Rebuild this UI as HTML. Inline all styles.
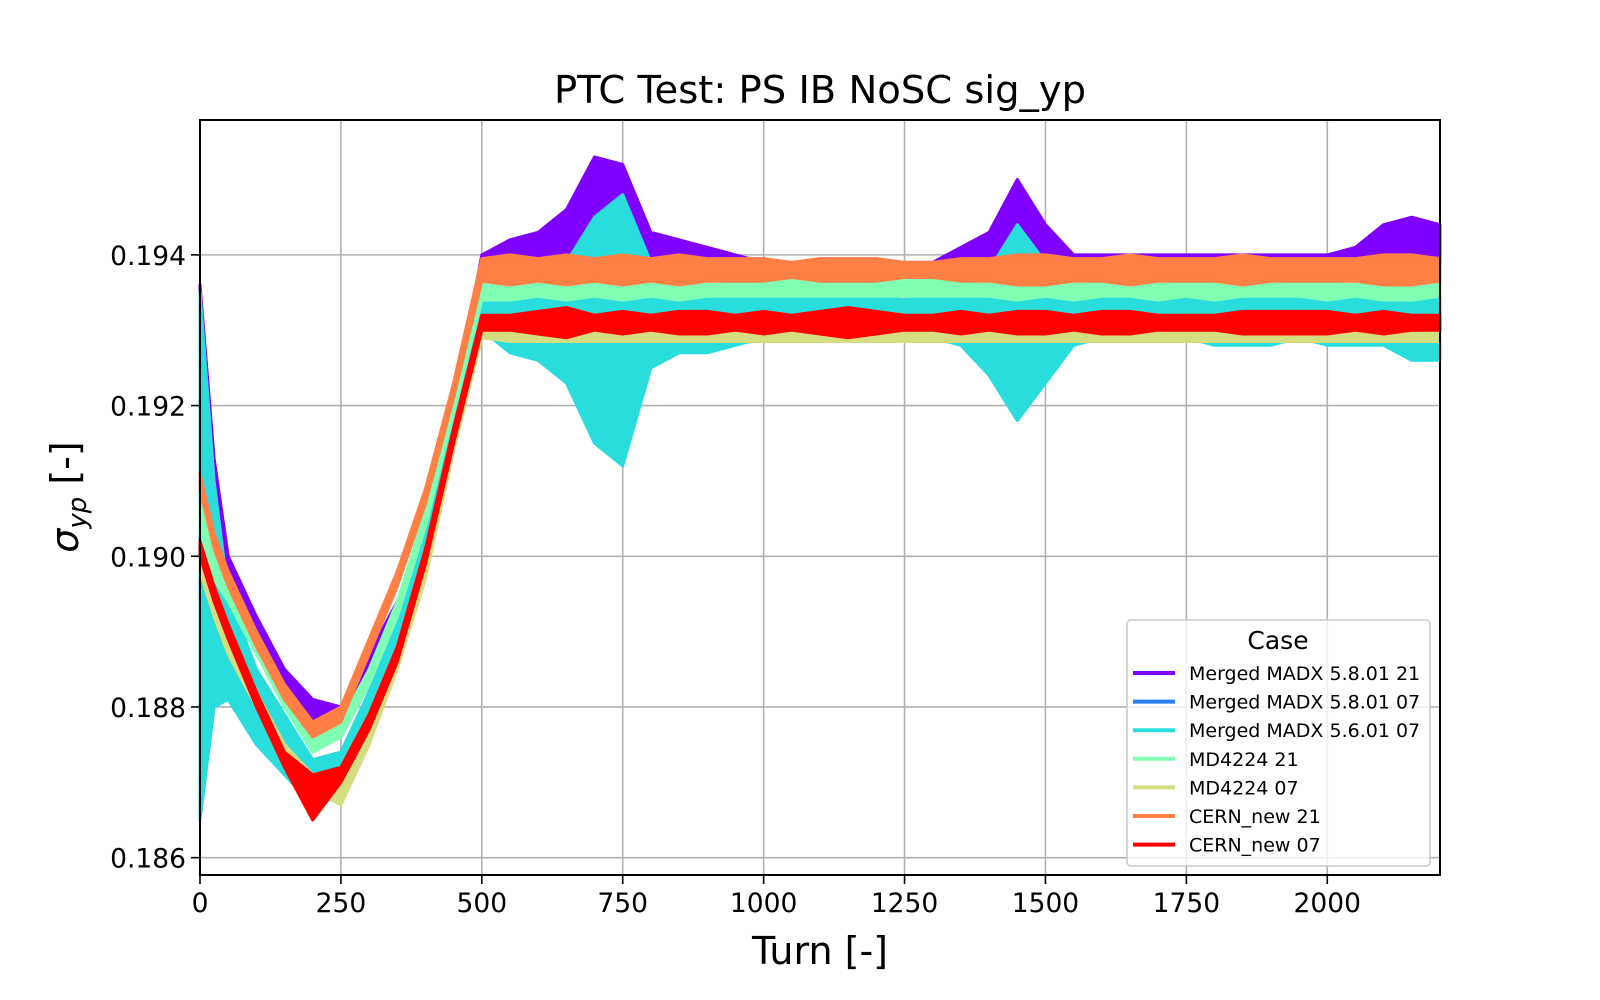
<!DOCTYPE html>
<html><head><meta charset="utf-8"><style>
body{margin:0;background:#fff}
svg{display:block;font-family:"DejaVu Sans","Liberation Sans",sans-serif}
</style></head><body>
<svg id="chart" width="1600" height="1000" viewBox="0 0 1600 1000" xmlns="http://www.w3.org/2000/svg">
<rect width="1600" height="1000" fill="#fff"/>
<g id="grid"></g>
<g id="series"></g>
<rect x="200" y="120" width="1240" height="755" fill="none" stroke="#000" stroke-width="2"/>
<g id="ticks"></g>
<text x="820" y="103" font-size="38.5" text-anchor="middle">PTC Test: PS IB NoSC sig_yp</text>
<text x="820" y="964" font-size="38" text-anchor="middle">Turn [-]</text>
<text transform="translate(78,497) rotate(-90)" font-size="38" text-anchor="middle"><tspan font-style="italic">σ</tspan><tspan font-style="italic" font-size="26" dy="8">yp</tspan><tspan dy="-8"> [-]</tspan></text>
<g id="legend"></g>
</svg>
<script>
const turns=[0,25,50,100,150,200,250,300,350,400,450,500,550,600,650,700,750,800,850,900,950,1000,1050,1100,1150,1200,1250,1300,1350,1400,1450,1500,1550,1600,1650,1700,1750,1800,1850,1900,1950,2000,2050,2100,2150,2200];
const seriesNames=["Merged MADX 5.8.01 21","Merged MADX 5.8.01 07","Merged MADX 5.6.01 07","MD4224 21","MD4224 07","CERN_new 21","CERN_new 07"];
const seriesColors=["#8000ff","#2c7ef7","#2adddd","#80ffb4","#d4dd80","#ff7f45","#ff0000"];
const purpleCenter=[0.1925,0.1905,0.1897,0.1890,0.1883,0.1878,0.1878,0.1885,0.1893,0.1903,0.1918,0.1938,0.1939,0.1939,0.1940,0.1942,0.1941,0.1939,0.1939,0.1939,0.1938,0.1938,0.1938,0.1938,0.1938,0.1938,0.1938,0.1938,0.1939,0.1940,0.1941,0.1939,0.1938,0.1938,0.1938,0.1938,0.1938,0.1938,0.1938,0.1938,0.1938,0.1938,0.1939,0.1940,0.1940,0.1940];
const purpleAmp=[0.0011,0.0008,0.0003,0.0002,0.0002,0.0003,0.0002,0.0002,0.0001,0.0001,0.0002,0.0002,0.0003,0.0004,0.0006,0.0011,0.0011,0.0004,0.0003,0.0002,0.0002,0.0001,0.0001,0.0001,0.0001,0.0001,0.0001,0.0001,0.0002,0.0003,0.0009,0.0005,0.0002,0.0002,0.0002,0.0002,0.0002,0.0002,0.0002,0.0002,0.0002,0.0002,0.0002,0.0004,0.0005,0.0004];
const blueCenter=[0.1900,0.1895,0.1888,0.1880,0.1875,0.1870,0.1872,0.1880,0.1890,0.1904,0.1920,0.1932,0.1932,0.1932,0.1932,0.1931,0.1931,0.1932,0.1932,0.1932,0.1932,0.1932,0.1932,0.1932,0.1932,0.1932,0.1932,0.1932,0.1932,0.1932,0.1931,0.1932,0.1932,0.1932,0.1932,0.1932,0.1932,0.1932,0.1932,0.1932,0.1932,0.1932,0.1932,0.1932,0.1932,0.1932];
const blueAmp=[0.0030,0.0013,0.0006,0.0004,0.0003,0.0003,0.0002,0.0002,0.0002,0.0002,0.0002,0.0002,0.0004,0.0005,0.0007,0.0012,0.0015,0.0006,0.0004,0.0004,0.0003,0.0003,0.0003,0.0003,0.0003,0.0003,0.0002,0.0003,0.0003,0.0006,0.0011,0.0007,0.0003,0.0003,0.0003,0.0003,0.0003,0.0003,0.0003,0.0003,0.0003,0.0003,0.0003,0.0004,0.0004,0.0004];
const cyanCenter=[0.1900,0.1895,0.1888,0.1880,0.1875,0.1870,0.1872,0.1880,0.1890,0.1904,0.1920,0.1932,0.1932,0.1932,0.1931,0.1930,0.1930,0.1932,0.1932,0.1932,0.1932,0.1932,0.1932,0.1932,0.1932,0.1932,0.1932,0.1932,0.1932,0.1931,0.1931,0.1931,0.1932,0.1932,0.1932,0.1932,0.1932,0.1932,0.1932,0.1932,0.1932,0.1932,0.1932,0.1932,0.1931,0.1931];
const cyanAmp=[0.0035,0.0015,0.0007,0.0005,0.0004,0.0003,0.0002,0.0002,0.0002,0.0002,0.0002,0.0002,0.0005,0.0006,0.0008,0.0015,0.0018,0.0007,0.0005,0.0005,0.0004,0.0003,0.0003,0.0003,0.0003,0.0003,0.0002,0.0003,0.0004,0.0007,0.0013,0.0008,0.0004,0.0003,0.0003,0.0003,0.0003,0.0004,0.0004,0.0004,0.0003,0.0004,0.0004,0.0004,0.0005,0.0005];
const mintCenter=[0.1905,0.1899,0.1895,0.1888,0.1881,0.1876,0.1877,0.1884,0.1893,0.1905,0.1920,0.1935,0.1936,0.1936,0.1936,0.1936,0.1936,0.1936,0.1936,0.1936,0.1936,0.1936,0.1936,0.1936,0.1936,0.1936,0.1936,0.1936,0.1936,0.1936,0.1936,0.1936,0.1936,0.1936,0.1936,0.1936,0.1936,0.1936,0.1936,0.1936,0.1936,0.1936,0.1936,0.1936,0.1936,0.1936];
const mintAmp=[0.0002,0.0002,0.0001,0.0001,0.0001,0.0002,0.0001,0.0001,0.0001,0.0001,0.0001,0.0001,0.0002,0.00015,0.0002,0.00015,0.0002,0.00015,0.0002,0.00015,0.00015,0.00015,0.00015,0.00015,0.00015,0.00015,0.00015,0.00015,0.00015,0.00015,0.0002,0.00015,0.0002,0.00015,0.00015,0.0002,0.00015,0.0002,0.00015,0.00015,0.00015,0.0002,0.00015,0.0002,0.0002,0.00015];
const khakiCenter=[0.1900,0.1893,0.1888,0.1881,0.1874,0.1870,0.1869,0.1876,0.1886,0.1898,0.1915,0.1930,0.1930,0.1930,0.1930,0.1930,0.1930,0.1930,0.1930,0.1930,0.1930,0.1930,0.1930,0.1930,0.1930,0.1930,0.1930,0.1930,0.1930,0.1930,0.1930,0.1930,0.1930,0.1930,0.1930,0.1930,0.1930,0.1930,0.1930,0.1930,0.1930,0.1930,0.1930,0.1930,0.1930,0.1930];
const khakiAmp=[0.0002,0.0001,0.0001,0.0001,0.0001,0.0001,0.0002,0.0001,0.0001,0.0001,0.0001,0.0001,0.00015,0.00015,0.00015,0.00015,0.00015,0.00015,0.00015,0.00015,0.00015,0.00015,0.00015,0.00015,0.00015,0.00015,0.00015,0.00015,0.00015,0.00015,0.00015,0.00015,0.00015,0.00015,0.00015,0.00015,0.00015,0.00015,0.00015,0.00015,0.00015,0.00015,0.00015,0.00015,0.00015,0.00015];
const orangeCenter=[0.1910,0.1902,0.1897,0.1889,0.1882,0.1877,0.1879,0.1888,0.1897,0.1908,0.1922,0.1938,0.1938,0.1938,0.1938,0.1938,0.1938,0.1938,0.1938,0.1938,0.1938,0.1938,0.1938,0.1938,0.1938,0.1938,0.1938,0.1938,0.1938,0.1938,0.1938,0.1938,0.1938,0.1938,0.1938,0.1938,0.1938,0.1938,0.1938,0.1938,0.1938,0.1938,0.1938,0.1938,0.1938,0.1938];
const orangeAmp=[0.0001,0.0001,0.0001,0.0001,0.0001,0.0001,0.0001,0.0001,0.0001,0.0001,0.0001,0.00015,0.0002,0.00015,0.0002,0.00015,0.0002,0.00015,0.0002,0.00015,0.00015,0.00015,0.0001,0.00015,0.00015,0.00015,0.0001,0.0001,0.00015,0.00015,0.0002,0.0002,0.00015,0.00015,0.0002,0.00015,0.00015,0.00015,0.0002,0.00015,0.00015,0.00015,0.00015,0.0002,0.0002,0.00015];
const redCenter=[0.1901,0.1895,0.1890,0.1881,0.1873,0.1868,0.1871,0.1878,0.1887,0.1900,0.1916,0.1931,0.1931,0.1931,0.1931,0.1931,0.1931,0.1931,0.1931,0.1931,0.1931,0.1931,0.1931,0.1931,0.1931,0.1931,0.1931,0.1931,0.1931,0.1931,0.1931,0.1931,0.1931,0.1931,0.1931,0.1931,0.1931,0.1931,0.1931,0.1931,0.1931,0.1931,0.1931,0.1931,0.1931,0.1931];
const redAmp=[0.0001,0.0001,0.0001,0.0001,0.0001,0.0003,0.0001,0.0001,0.0001,0.0001,0.0001,0.0001,0.0001,0.00015,0.0002,0.0001,0.00015,0.0001,0.00015,0.00015,0.0001,0.00015,0.0001,0.00015,0.0002,0.00015,0.0001,0.0001,0.00015,0.0001,0.00015,0.00015,0.0001,0.00015,0.00015,0.0001,0.0001,0.0001,0.00015,0.00015,0.00015,0.00015,0.0001,0.00015,0.0001,0.0001];
const seriesCenters=[purpleCenter,blueCenter,cyanCenter,mintCenter,khakiCenter,orangeCenter,redCenter];
const seriesAmps=[purpleAmp,blueAmp,cyanAmp,mintAmp,khakiAmp,orangeAmp,redAmp];
const xTicks=[0,250,500,750,1000,1250,1500,1750,2000];
const yTicks=[0.186,0.188,0.190,0.192,0.194];
const yTickLabels=["0.186","0.188","0.190","0.192","0.194"];

const NS="http://www.w3.org/2000/svg";
const X0=200,X1=1440,Y0=875,Y1=120,XMIN=0,XMAX=2200,YMIN=0.18577,YMAX=0.19579;
function xs(v){return X0+(v-XMIN)/(XMAX-XMIN)*(X1-X0);}
function ys(v){return Y0-(v-YMIN)/(YMAX-YMIN)*(Y0-Y1);}
function mk(tag,attrs,parent){const e=document.createElementNS(NS,tag);for(const k in attrs)e.setAttribute(k,attrs[k]);parent.appendChild(e);return e;}
const grid=document.getElementById('grid'),ticks=document.getElementById('ticks'),ser=document.getElementById('series'),leg=document.getElementById('legend');
xTicks.forEach(t=>{
  const g=mk('line',{x1:xs(t),x2:xs(t),y1:Y1,y2:Y0,stroke:'#b0b0b0','stroke-width':1.6},grid);
  
  
  const tk=mk('line',{x1:xs(t),x2:xs(t),y1:Y0,y2:Y0+9,stroke:'#000','stroke-width':1.6},ticks);
  
  
  const tl=mk('text',{x:xs(t),y:Y0+37,'font-size':26.5,'text-anchor':'middle'},ticks);
  tl.textContent=String(t);
  
  
});
yTicks.forEach((t,i)=>{
  const g=mk('line',{x1:X0,x2:X1,y1:ys(t),y2:ys(t),stroke:'#b0b0b0','stroke-width':1.6},grid);
  
  
  const tk=mk('line',{x1:X0-9,x2:X0,y1:ys(t),y2:ys(t),stroke:'#000','stroke-width':1.6},ticks);
  
  
  const tl=mk('text',{x:X0-14,y:ys(t)+10,'font-size':26.5,'text-anchor':'end'},ticks);
  tl.textContent=yTickLabels[i];
  
  
});
seriesNames.forEach((nm,s)=>{
  const c=seriesCenters[s],a=seriesAmps[s];
  let up=[],lo=[];
  turns.forEach((t,i)=>{up.push(xs(t).toFixed(1)+','+ys(c[i]+a[i]).toFixed(1));lo.push(xs(t).toFixed(1)+','+ys(c[i]-a[i]).toFixed(1));});
  const p=mk('polygon',{points:up.concat(lo.reverse()).join(' '),fill:seriesColors[s],stroke:seriesColors[s],'stroke-width':3,'stroke-linejoin':'round'},ser);
  
  
});
const box=mk('rect',{x:1127,y:620,width:303,height:246,rx:4,fill:'#fff','fill-opacity':0.8,stroke:'#cccccc','stroke-width':1.6},leg);


const lt=mk('text',{x:1278,y:649,'font-size':25,'text-anchor':'middle'},leg);
lt.textContent='Case';


seriesNames.forEach((nm,s)=>{
  const y=673+s*28.6;
  const l=mk('line',{x1:1133,x2:1175,y1:y,y2:y,stroke:seriesColors[s],'stroke-width':4},leg);
  
  
  const t=mk('text',{x:1189,y:y+7,'font-size':19},leg);
  t.textContent=nm;
  
  
});
</script>
</body></html>
